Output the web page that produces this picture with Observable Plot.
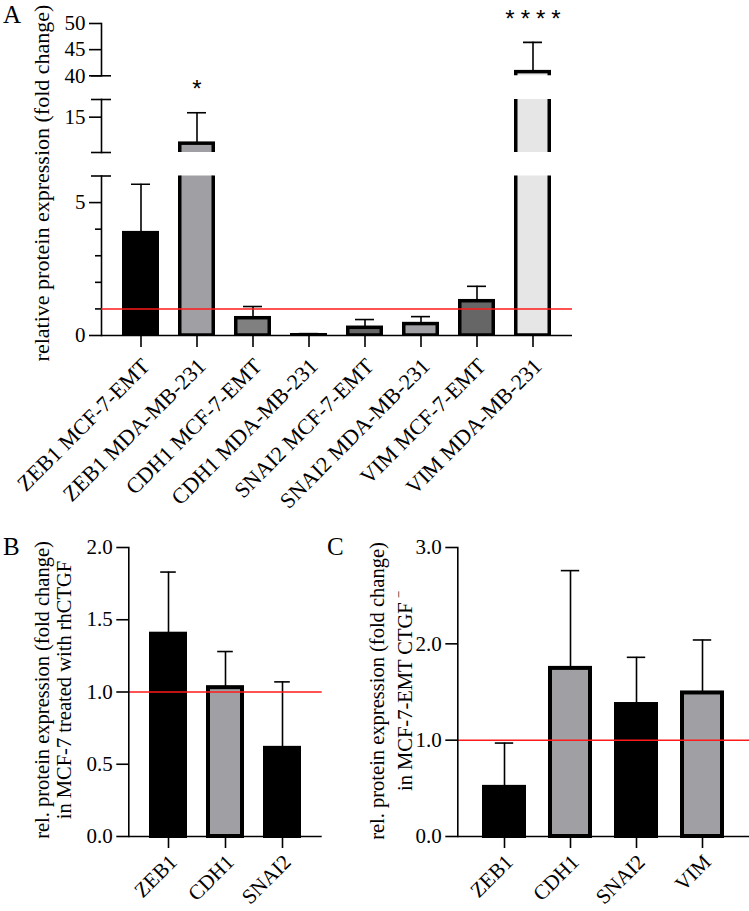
<!DOCTYPE html>
<html>
<head>
<meta charset="utf-8">
<script src="https://cdn.jsdelivr.net/npm/d3@7"></script>
<script src="https://cdn.jsdelivr.net/npm/@observablehq/plot@0.6"></script>
<style>
  html, body { margin: 0; padding: 0; background: #fff; }
  #root { position: relative; width: 749px; height: 911px; overflow: hidden; background: #fff;
          font-family: "Liberation Serif", "Times New Roman", serif; color: #000; }
  .lbl { position: absolute; white-space: nowrap; text-align: center; font-size: 20.5px; line-height: 22px; }
  .lblA { position: absolute; white-space: nowrap; text-align: center; font-size: 22px; line-height: 22px; }
  .panel { position: absolute; font-size: 25px; line-height: 24px; }
</style>
</head>
<body>
<div id="root"></div>
<script>
// ---------------- data ----------------
// Panel A
const aCategories = ["ZEB1 MCF-7-EMT", "ZEB1 MDA-MB-231", "CDH1 MCF-7-EMT", "CDH1 MDA-MB-231",
                     "SNAI2 MCF-7-EMT", "SNAI2 MDA-MB-231", "VIM MCF-7-EMT", "VIM MDA-MB-231"];
const aMeans  = [3.85, 12.0, 0.65, 0.01, 0.29, 0.43, 1.29, 40.7];
const aUpper  = [5.69, 15.5, 1.09, 0.07, 0.60, 0.71, 1.85, 46.4];
const aSignif = ["", "*", "", "", "", "", "", "****"];
const aTicksLabeled = [[0, 5], [15], [40, 45, 50]];
const aTicksMinor   = [[1, 2, 3, 4], [], []];
const aBreaks       = [[6], [11, 17], [40]];
const aDomains      = [[0, 6], [11, 17], [40, 50]];

// Panel B
const bCategories = ["ZEB1", "CDH1", "SNAI2"];
const bMeans = [1.40, 1.03, 0.61];
const bUpper = [1.83, 1.28, 1.07];
const bTicks = [0, 0.5, 1.0, 1.5, 2.0];

// Panel C
const cCategories = ["ZEB1", "CDH1", "SNAI2", "VIM"];
const cMeans = [0.51, 1.745, 1.37, 1.49];
const cUpper = [0.97, 2.76, 1.86, 2.04];
const cTicks = [0, 1, 2, 3];

const referenceLevel = 1;

// ---------------- styles ----------------
const aPalette = ["#000000", "#a0a0a4", "#808080", "#808080", "#666666", "#a0a0a4", "#666666", "#e6e6e6"];
const bPalette = ["#000000", "#a0a0a4", "#000000"];
const cPalette = ["#000000", "#a0a0a4", "#000000", "#a0a0a4"];
const SERIF = "'Liberation Serif','Times New Roman',serif";
const AXW = 1.6;
const RED = "#ff1a1a";

const root = document.getElementById("root");
function place(node, left, top) {
  node.style.position = "absolute";
  node.style.left = left + "px";
  node.style.top = top + "px";
  root.appendChild(node);
}
const svgStyle = {background: "transparent", fontFamily: SERIF, fontSize: "21px", overflow: "visible", color: "#000"};

// x axis: ticks and rotated labels as two axis marks
function xAxisMarks(padding, fontSize) {
  return [
    Plot.axisX({tickSize: 12, tickFormat: () => "", strokeWidth: AXW, label: null}),
    Plot.axisX({tickSize: 0, tickRotate: -45, tickPadding: padding, dx: 5, fontSize, label: null})
  ];
}

// ---------------- Panel A (broken axis: three stacked segments) ----------------
const aData = aCategories.map((name, i) => ({name, mean: aMeans[i], upper: aUpper[i], sig: aSignif[i]}));
const aLayout = [
  {top: 175.5, bottom: 335},
  {top: 99,    bottom: 152},
  {top: 23,    bottom: 75.3}
];
const A_H = 520;
aDomains.forEach((domain, s) => {
  const lay = aLayout[s];
  const sigData = aData.filter(d => d.sig && d.upper >= domain[0] && d.upper <= domain[1]);
  const marks = [
    Plot.barY(aData, {x: "name", y: "mean", fill: "name", stroke: "#000", strokeWidth: 3.5,
                      insetLeft: 1.75, insetRight: 1.75, clip: true}),
    Plot.ruleX(aData, {x: "name", y1: "mean", y2: "upper", stroke: "#000", strokeWidth: 1.6, clip: true}),
    Plot.tickY(aData, {x: "name", y: "upper", stroke: "#000", strokeWidth: 1.6, insetLeft: 9, insetRight: 9, clip: true}),
    Plot.text(sigData, {x: "name", y: "upper", text: "sig", dy: -23, fontFamily: "'Liberation Sans',Arial,sans-serif", fontSize: 24}),
    Plot.frame({anchor: "left", strokeWidth: AXW}),
    Plot.axisY({ticks: aTicksLabeled[s], tickSize: 12, tickPadding: 4, tickFormat: d => String(d), strokeWidth: AXW, label: null}),
    Plot.axisY({ticks: aBreaks[s], tickSize: 20, dx: 10, tickFormat: () => "", strokeWidth: AXW, label: null})
  ];
  if (aTicksMinor[s].length) {
    marks.push(Plot.axisY({ticks: aTicksMinor[s], tickSize: 6, tickFormat: () => "", strokeWidth: AXW, label: null}));
  }
  if (s === 0) {
    marks.push(
      Plot.ruleY([referenceLevel], {stroke: RED, strokeWidth: 1.5}),
      Plot.ruleY([0], {stroke: "#000", strokeWidth: AXW}),
      ...xAxisMarks(27, 22)
    );
  }
  const chart = Plot.plot({
    width: 749, height: A_H,
    marginLeft: 101, marginRight: 749 - 572,
    marginTop: lay.top, marginBottom: A_H - lay.bottom,
    style: svgStyle,
    x: {domain: aCategories, paddingInner: 0.34, paddingOuter: 0.35, axis: s === 0 ? undefined : null, label: null},
    y: {domain, label: null},
    color: {domain: aCategories, range: aPalette},
    marks
  });
  place(chart, 0, 0);
  d3.select(chart).selectAll("text").filter(function () { return this.textContent === "****"; })
    .style("letter-spacing", "6px").attr("dx", 3);
});

// ---------------- Panels B and C ----------------
function smallPanel({cats, means, upper, ticks, palette, yMax, left, top, width, marginLeft, marginRight, capInset}) {
  const data = cats.map((name, i) => ({name, mean: means[i], upper: upper[i]}));
  const H = 391;
  const chart = Plot.plot({
    width, height: H,
    marginLeft, marginRight, marginTop: 27, marginBottom: H - 316,
    style: svgStyle,
    x: {domain: cats, paddingInner: 0.34, paddingOuter: 0.35, label: null},
    y: {domain: [0, yMax], label: null},
    color: {domain: cats, range: palette},
    marks: [
      Plot.barY(data, {x: "name", y: "mean", fill: "name", stroke: "#000", strokeWidth: 4, insetLeft: 2, insetRight: 2}),
      Plot.ruleX(data, {x: "name", y1: "mean", y2: "upper", stroke: "#000", strokeWidth: 1.6}),
      Plot.tickY(data, {x: "name", y: "upper", stroke: "#000", strokeWidth: 1.6, insetLeft: capInset, insetRight: capInset}),
      Plot.ruleY([referenceLevel], {stroke: RED, strokeWidth: 1.5}),
      Plot.frame({anchor: "left", strokeWidth: AXW}),
      Plot.ruleY([0], {stroke: "#000", strokeWidth: AXW}),
      Plot.axisY({ticks, tickSize: 12, tickPadding: 4, tickFormat: d3.format(".1f"), strokeWidth: AXW, label: null}),
      ...xAxisMarks(22, 21)
    ]
  });
  place(chart, left, top);
}
smallPanel({cats: bCategories, means: bMeans, upper: bUpper, ticks: bTicks, palette: bPalette, yMax: 2,
            left: 0, top: 520, width: 370, marginLeft: 128.3, marginRight: 370 - 321.7, capInset: 11.2});
smallPanel({cats: cCategories, means: cMeans, upper: cUpper, ticks: cTicks, palette: cPalette, yMax: 3,
            left: 370, top: 520, width: 379, marginLeft: 87.3, marginRight: 0, capInset: 12.8});

// ---------------- text labels ----------------
function label(html, cx, cy, cls) {
  const d = document.createElement("div");
  d.className = cls;
  d.innerHTML = html;
  root.appendChild(d);
  const w = d.offsetWidth, h = d.offsetHeight;
  d.style.left = (cx - w / 2) + "px";
  d.style.top = (cy - h / 2) + "px";
  d.style.transform = "rotate(-90deg)";
  return d;
}
label("relative protein expression (fold change)", 42.3, 183, "lblA");
label("rel. protein expression (fold change)<br>in MCF-7 treated with rhCTGF", 53, 690, "lbl");
label("rel. protein expression (fold change)<br>in MCF-7-EMT CTGF<span style=\"font-size:13px;vertical-align:9px;margin-left:4px\">−</span>", 390.8, 691, "lbl");

function panelLetter(t, left, top) {
  const d = document.createElement("div");
  d.className = "panel";
  d.textContent = t;
  place(d, left, top);
}
panelLetter("A", 3, 2.5);
panelLetter("B", 3, 535);
panelLetter("C", 327, 535);
</script>
</body>
</html>
